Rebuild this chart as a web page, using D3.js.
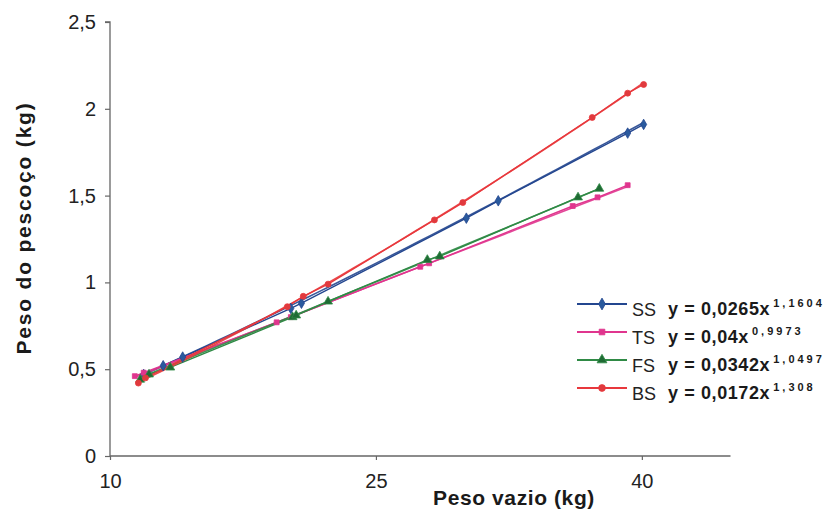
<!DOCTYPE html>
<html>
<head>
<meta charset="utf-8">
<script src="https://cdn.jsdelivr.net/npm/d3@7/dist/d3.min.js"></script>
<style>
  html, body { margin: 0; padding: 0; background: #fff; }
  svg { display: block; font-family: "Liberation Sans", Arial, sans-serif; }
</style>
</head>
<body>
<svg id="chart" width="833" height="515"></svg>
<script>
// Peso vazio (kg) vs. peso do pescoço (kg), four groups
const ssX = [11.9, 13.0, 14.1, 20.2, 20.8, 30.1, 31.9, 39.2, 40.1];
const ssY = [0.47, 0.52, 0.57, 0.85, 0.88, 1.37, 1.47, 1.86, 1.91];
const tsX = [11.4, 11.9, 19.4, 20.2, 27.5, 28.0, 36.1, 37.5, 39.2];
const tsY = [0.46, 0.48, 0.77, 0.80, 1.09, 1.11, 1.44, 1.49, 1.56];
const fsX = [11.7, 12.2, 13.4, 20.3, 20.5, 22.3, 27.9, 28.6, 36.4, 37.6];
const fsY = [0.44, 0.47, 0.51, 0.80, 0.81, 0.89, 1.13, 1.15, 1.49, 1.54];
const bsX = [11.6, 12.0, 20.0, 20.9, 22.3, 28.3, 29.9, 37.2, 39.2, 40.1];
const bsY = [0.42, 0.45, 0.86, 0.92, 0.99, 1.36, 1.46, 1.95, 2.09, 2.14];

// power trend y = a * x^b for each group
const groupNames = ["SS", "TS", "FS", "BS"];
const coefA = [0.0265, 0.04, 0.0342, 0.0172];
const coefB = [1.1604, 0.9973, 1.0497, 1.308];
const coefALabels = ["0,0265", "0,04", "0,0342", "0,0172"];
const coefBLabels = ["1,1604", "0,9973", "1,0497", "1,308"];

const xTicks = [10, 25, 40];
const yTicks = [0, 0.5, 1, 1.5, 2, 2.5];

const styles = [
  { line: "#23468f", mark: "#2a5a9e", shape: d3.symbolDiamond, size: 32 },
  { line: "#e0358e", mark: "#e0358e", shape: d3.symbolSquare, size: 24 },
  { line: "#2f8a45", mark: "#1f6b34", shape: d3.symbolTriangle, size: 34 },
  { line: "#e8383c", mark: "#e03a3e", shape: d3.symbolCircle, size: 28 }
];

const series = [
  { xs: ssX, ys: ssY },
  { xs: tsX, ys: tsY },
  { xs: fsX, ys: fsY },
  { xs: bsX, ys: bsY }
];

const svg = d3.select("#chart");
const x = d3.scaleLinear().domain([10, 45]).range([110, 730.5]);
const y = d3.scaleLinear().domain([0, 2.5]).range([456, 22]);
const fmt = v => String(v).replace(".", ",");

// axes
const yAxis = d3.axisLeft(y).tickValues(yTicks).tickSize(5).tickPadding(9).tickFormat(fmt);
const xAxis = d3.axisBottom(x).tickValues(xTicks).tickSize(4).tickPadding(14).tickFormat(fmt);

const gy = svg.append("g").attr("transform", "translate(110,0)").call(yAxis);
const gx = svg.append("g").attr("transform", "translate(0,456)").call(xAxis);
[gx, gy].forEach(g => {
  g.select(".domain").attr("stroke", "#666").attr("stroke-width", 1.3);
  g.selectAll(".tick line").attr("stroke", "#666").attr("stroke-width", 1.2);
  g.selectAll(".tick text").attr("fill", "#222").style("font-size", "20px")
    .style("font-family", "'Liberation Sans', Arial, sans-serif");
});
gy.select(".domain").attr("d", "M-5,22H0V456");
gx.select(".domain").attr("d", "M110,0H730.5");

// axis titles
svg.append("text")
  .attr("transform", "translate(31,228) rotate(-90)")
  .attr("text-anchor", "middle")
  .style("font-size", "21px").style("font-weight", "bold")
  .style("letter-spacing", "1.8px")
  .attr("fill", "#1a1a1a")
  .text("Peso do pescoço (kg)");

svg.append("text")
  .attr("x", 514).attr("y", 505)
  .attr("text-anchor", "middle")
  .style("font-size", "21px").style("font-weight", "bold")
  .style("letter-spacing", "0.6px")
  .attr("fill", "#1a1a1a")
  .text("Peso vazio (kg)");

// trend curves and data lines
const lineGen = d3.line().x(d => x(d[0])).y(d => y(d[1]));
series.forEach((s, i) => {
  const pts = s.xs.map((v, k) => [v, s.ys[k]]);
  const x0 = d3.min(s.xs), x1 = d3.max(s.xs);
  const trend = d3.range(0, 41).map(k => {
    const xv = x0 + (x1 - x0) * k / 40;
    return [xv, coefA[i] * Math.pow(xv, coefB[i])];
  });
  svg.append("path").datum(trend).attr("d", lineGen)
    .attr("fill", "none").attr("stroke", styles[i].line)
    .attr("stroke-width", 1.6).attr("opacity", 0.9);
  svg.append("path").datum(pts).attr("d", lineGen)
    .attr("fill", "none").attr("stroke", styles[i].line)
    .attr("stroke-width", 1.4);
});

// markers
series.forEach((s, i) => {
  const sym = d3.symbol().type(styles[i].shape).size(styles[i].size);
  svg.append("g").selectAll("path")
    .data(s.xs.map((v, k) => [v, s.ys[k]]))
    .join("path")
    .attr("d", sym)
    .attr("transform", d => `translate(${x(d[0])},${y(d[1])})`)
    .attr("fill", styles[i].mark)
    .attr("stroke", styles[i].line).attr("stroke-width", 0.8);
});

// legend
const legend = svg.append("g");
groupNames.forEach((name, i) => {
  const ly = 304 + i * 28;
  legend.append("line")
    .attr("x1", 577).attr("x2", 627).attr("y1", ly).attr("y2", ly)
    .attr("stroke", styles[i].line).attr("stroke-width", 2);
  legend.append("path")
    .attr("d", d3.symbol().type(styles[i].shape).size(styles[i].size + 8)())
    .attr("transform", `translate(602,${ly})`)
    .attr("fill", styles[i].mark).attr("stroke", styles[i].line).attr("stroke-width", 0.8);
  legend.append("text")
    .attr("x", 632).attr("y", ly + 12)
    .style("font-size", "18px").attr("fill", "#222")
    .text(name);
  const eq = legend.append("text")
    .attr("x", 668).attr("y", ly + 11)
    .style("font-size", "18px").style("font-weight", "bold")
    .style("letter-spacing", "0.6px").attr("fill", "#1a1a1a");
  eq.append("tspan").text(`y = ${coefALabels[i]}x`);
  eq.append("tspan").attr("dy", -8).attr("dx", 3)
    .style("font-size", "11px").style("letter-spacing", "3px")
    .text(coefBLabels[i]);
});
</script>
</body>
</html>
